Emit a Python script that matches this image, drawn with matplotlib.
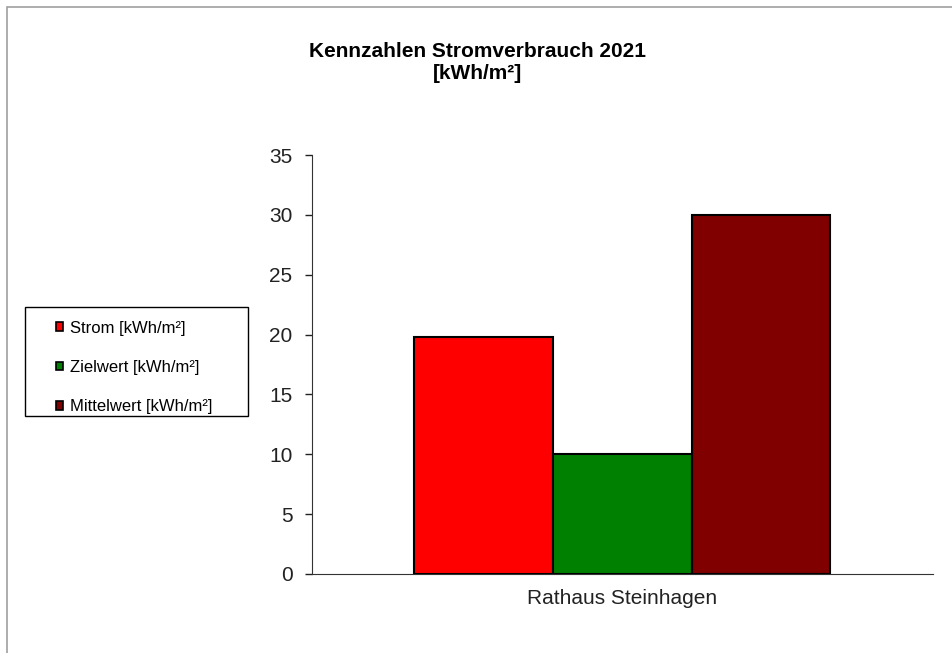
import numpy as np
import matplotlib.pyplot as plt
from matplotlib.patches import Rectangle

plt.rcParams['font.family'] = ['Liberation Sans', 'DejaVu Sans']

# data
category = 'Rathaus Steinhagen'
series = ['Strom [kWh/m²]', 'Zielwert [kWh/m²]', 'Mittelwert [kWh/m²]']
values = [19.8, 10.0, 30.0]
colors = ['#ff0000', '#008000', '#800000']

fig = plt.figure(figsize=(9.52, 6.53), dpi=100)
ax = fig.add_axes([0.3277, 0.121, 0.6523, 0.6416])

# gray frame (top / left edge of the chart area)
fig.patches.append(Rectangle((0.0075, -0.01), 1.1, 1.0, transform=fig.transFigure,
                             fill=False, edgecolor='#a0a0a0', linewidth=1.2))

width = 0.67 / 3
offsets = (np.arange(3) - 1) * width
for off, v, c, lab in zip(offsets, values, colors, series):
    ax.bar(off, v, width=width, color=c, edgecolor='black', linewidth=1.5, label=lab)

ax.set_xlim(-0.5, 0.5)
ax.set_ylim(0, 35)
ax.set_yticks(np.arange(0, 36, 5))
ax.set_xticks([])
ax.tick_params(axis='y', labelsize=15, length=5, width=1, colors='#222222', pad=9)
ax.spines['top'].set_visible(False)
ax.spines['right'].set_visible(False)
for s in ['left', 'bottom']:
    ax.spines[s].set_color('#333333')
ax.set_xlabel(category, fontsize=15, labelpad=11, color='#222222')

fig.text(0.502, 0.904, 'Kennzahlen Stromverbrauch 2021\n[kWh/m²]', ha='center', va='center',
         fontsize=15, fontweight='bold', linespacing=1.2)

# legend box drawn separately so the padding matches
fig.patches.append(Rectangle((0.0263, 0.3629), 0.234, 0.1669, transform=fig.transFigure,
                             fill=False, edgecolor='black', linewidth=1.0))
leg = fig.legend(loc='upper left', bbox_to_anchor=(0.059, 0.509), fontsize=12,
                 frameon=False, handlelength=0.42, handleheight=0.42,
                 handletextpad=0.4, labelspacing=1.46, borderpad=0, borderaxespad=0)
for h in leg.legend_handles:
    h.set_linewidth(1.2)

fig.savefig('out.png', dpi=100)
